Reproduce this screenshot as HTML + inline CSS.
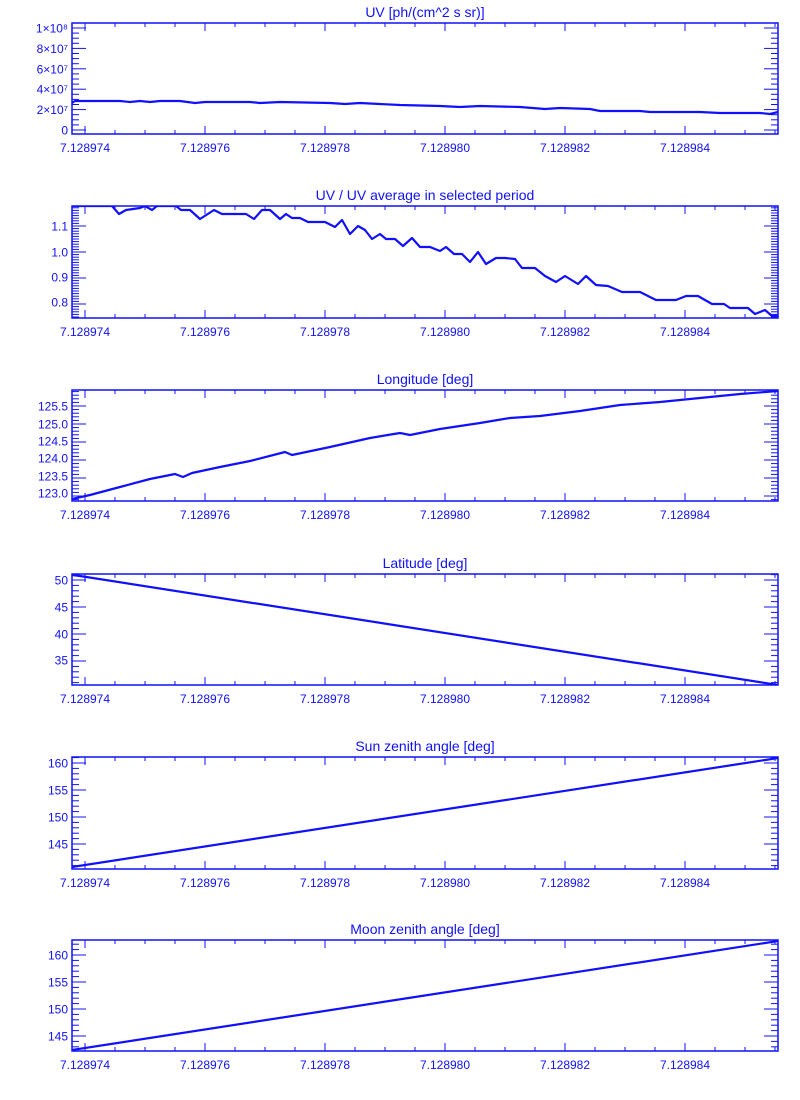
<!DOCTYPE html>
<html><head><meta charset="utf-8"><style>
html,body{margin:0;padding:0;background:#fff;}
svg{display:block;}
text{font-family:"Liberation Sans",sans-serif;fill:#1010ff;}
</style></head><body>
<svg id="s" width="800" height="1100" xmlns="http://www.w3.org/2000/svg"></svg>
<script>
const S=document.getElementById('s');let h='';
const C='#1010ff',L=72,R=778;
function xOf(i){return 85+i*60;} // per 1e-6
const panels=[
 {t:'UV [ph/(cm^2 s sr)]',top:23,bot:134,ticks:[[130,'0'],[109.6,'2×10⁷'],[89.2,'4×10⁷'],[68.8,'6×10⁷'],[48.4,'8×10⁷'],[28,'1×10⁸']],minor:5.1,
  pts:[[72,103],[75,101],[100,101],[120,101],[130,102],[140,101],[150,102],[160,101],[180,101],[195,103],[205,102],[250,102],[260,103],[280,102],[330,103],[345,104],[360,103],[400,105],[440,106],[460,107],[480,106],[520,107],[545,109],[560,108],[590,109],[600,111],[640,111],[650,112],[700,112],[720,113],[760,113],[770,114],[778,112]]},
 {t:'UV / UV average in selected period',top:206,bot:318,ticks:[[226,'1.1'],[252,'1.0'],[277,'0.9'],[302,'0.8']],minor:2.53,
  pts:[[72,206],[112,206],[119,214],[126,210],[133,209],[140,208],[145,206],[152,210],[157,206],[176,206],[181,210],[190,210],[200,219],[214,210],[222,214],[246,214],[254,219],[262,210],[270,210],[280,219],[286,214],[292,218],[300,218],[308,222],[325,222],[335,227],[342,220],[350,234],[358,226],[365,230],[372,239],[380,234],[386,239],[395,239],[403,246],[412,238],[420,247],[430,247],[440,251],[446,247],[454,254],[462,254],[470,262],[478,252],[486,264],[496,258],[505,258],[515,259],[522,268],[535,268],[545,276],[556,282],[565,276],[578,284],[586,276],[596,285],[608,286],[622,292],[640,292],[656,300],[676,300],[686,296],[698,296],[712,304],[724,304],[730,308],[748,308],[755,314],[765,310],[772,316],[778,316]]},
 {t:'Longitude [deg]',top:390,bot:501,ticks:[[406,'125.5'],[424,'125.0'],[441,'124.5'],[458,'124.0'],[476,'123.5'],[493,'123.0']],minor:3.5,
  pts:[[72,499],[90,495],[120,487],[150,479],[175,474],[183,477],[192,473],[220,467],[250,461],[285,452],[292,455],[330,447],[370,438],[400,433],[410,435],[440,429],[480,423],[510,418],[540,416],[580,411],[620,405],[660,402],[700,398],[740,394],[778,391]]},
 {t:'Latitude [deg]',top:574,bot:685,ticks:[[580,'50'],[607,'45'],[634,'40'],[660,'35']],minor:5.35,
  pts:[[72,575],[80,576],[778,685]]},
 {t:'Sun zenith angle [deg]',top:757,bot:869,ticks:[[763,'160'],[790,'155'],[817,'150'],[844,'145']],minor:5.35,
  pts:[[72,867],[778,758]]},
 {t:'Moon zenith angle [deg]',top:940,bot:1051,ticks:[[955,'160'],[982,'155'],[1009,'150'],[1036,'145']],minor:5.35,
  pts:[[72,1050],[778,941]]}
];
const xl=['7.128974','7.128976','7.128978','7.128980','7.128982','7.128984'];
for(const p of panels){
 const{top,bot}=p;
 h+=`<defs><clipPath id="c${top}"><rect x="${L}" y="${top}" width="${R-L}" height="${bot-top}"/></clipPath></defs>`;
 h+=`<rect x="${L}" y="${top}" width="${R-L}" height="${bot-top}" fill="none" stroke="${C}" stroke-width="1.5"/>`;
 h+=`<text x="${(L+R)/2}" y="${top-6}" font-size="14" text-anchor="middle">${p.t}</text>`;
 // x ticks
 for(let x=85-30*0;x<=R;x+=30){const maj=((x-85)%120===0);const len=maj?8:4;
  h+=`<line x1="${x}" y1="${bot}" x2="${x}" y2="${bot-len}" stroke="${C}"/><line x1="${x}" y1="${top}" x2="${x}" y2="${top+len}" stroke="${C}"/>`;}
 xl.forEach((s,i)=>{h+=`<text x="${85+i*120}" y="${bot+18}" font-size="12" text-anchor="middle">${s}</text>`;});
 // y ticks
 const t0=p.ticks[0][0],t1=p.ticks[1][0];const step=t1-t0;
 const n=Math.round(Math.abs(step)/p.minor);const ms=step/n;
 for(let k=-60;k<=60;k++){const y=t0+k*ms;if(y<top+0.5||y>bot-0.5)continue;const maj=(k%n===0);const len=maj?14:7;
  h+=`<line x1="${L}" y1="${y}" x2="${L+len}" y2="${y}" stroke="${C}"/><line x1="${R}" y1="${y}" x2="${R-len}" y2="${y}" stroke="${C}"/>`;}
 for(const[y,s]of p.ticks){h+=`<text x="${L-4}" y="${y+4.5}" font-size="12" text-anchor="end">${s}</text>`;}
 h+=`<polyline clip-path="url(#c${top})" fill="none" stroke="${C}" stroke-width="2.2" stroke-linejoin="round" points="${p.pts.map(a=>a.join(',')).join(' ')}"/>`;
}
S.innerHTML=h;
</script>
</body></html>
